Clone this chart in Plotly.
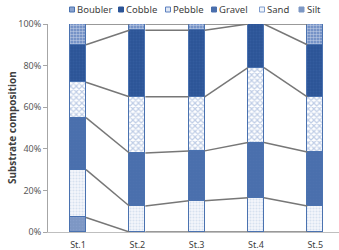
import plotly.graph_objects as go

stations = ["St.1", "St.2", "St.3", "St.4", "St.5"]
silt = [7, 0, 0, 0, 0]
sand = [23, 12.5, 15, 16.5, 12.5]
gravel = [25, 25.5, 24, 26.5, 26]
pebble = [17, 27, 26, 36, 26.5]
cobble = [18, 32, 32, 21, 25]
boubler = [10, 3, 3, 0, 10]
y_ticks = [0, 20, 40, 60, 80, 100]
y_tick_labels = ["0%", "20%", "40%", "60%", "80%", "100%"]

series = [
    ("Silt", silt, dict(bgcolor="#7d97c4", fgcolor="#8ea6cf", shape=".", size=3, solidity=0.2)),
    ("Sand", sand, dict(bgcolor="#f4f7fb", fgcolor="#b9c9e4", shape=".", size=3, solidity=0.4)),
    ("Gravel", gravel, dict(bgcolor="#4a6fad", fgcolor="#4f74b2", shape=".", size=3, solidity=0.2)),
    ("Pebble", pebble, dict(bgcolor="#ffffff", fgcolor="#7f9ccd", shape="x", size=4, solidity=0.5)),
    ("Cobble", cobble, dict(bgcolor="#2c5597", fgcolor="#3c64a5", shape=".", size=3, solidity=0.3)),
    ("Boubler", boubler, dict(bgcolor="#5f81bd", fgcolor="#ffffff", shape=".", size=3, solidity=0.55)),
]

BAR_W = 0.27
idx = list(range(len(stations)))

fig = go.Figure()
for name, vals, pat in series:
    fig.add_trace(go.Bar(
        x=idx, y=vals, name=name, width=BAR_W,
        marker=dict(color=pat["bgcolor"], line=dict(color="#4a72b0", width=1),
                    pattern=dict(shape=pat["shape"], fgcolor=pat["fgcolor"],
                                 bgcolor=pat["bgcolor"], size=pat["size"],
                                 solidity=pat["solidity"], fillmode="overlay")),
        showlegend=False,
    ))

# series lines connecting cumulative boundaries
cum = [0] * len(stations)
lx, ly = [], []
for name, vals, pat in series:
    cum = [c + v for c, v in zip(cum, vals)]
    for i in range(len(stations) - 1):
        lx += [i + BAR_W / 2, i + 1 - BAR_W / 2, None]
        ly += [cum[i], cum[i + 1], None]
fig.add_trace(go.Scatter(x=lx, y=ly, mode="lines", line=dict(color="#777777", width=1.5),
                         showlegend=False, hoverinfo="skip"))

# layout geometry (pixels)
L, R, T, B, W, H = 48, 0, 24, 18, 339, 250
PW, PH = W - L - R, H - T - B


def px(xp):
    return (xp - L) / PW


def py(yp):
    return (H - B - yp) / PH


# manual legend
legend_items = [
    ("Boubler", 69.5, "#8aa3cf", "#4a72b0"),
    ("Cobble", 118.5, "#2c5597", "#2c5597"),
    ("Pebble", 165.5, "#dfe7f4", "#5a7fbf"),
    ("Gravel", 211.5, "#4a6fad", "#4a6fad"),
    ("Sand", 259.5, "#f0f4fa", "#7f9ccd"),
    ("Silt", 299, "#7d97c4", "#7d97c4"),
]
shapes = []
annotations = []
for name, xl, fill, edge in legend_items:
    shapes.append(dict(type="rect", xref="paper", yref="paper",
                       x0=px(xl), x1=px(xl + 5), y0=py(12), y1=py(7),
                       fillcolor=fill, line=dict(color=edge, width=1)))
    annotations.append(dict(text=name, xref="paper", yref="paper",
                            x=px(xl + 5.5), y=py(9.7), xanchor="left", yanchor="middle",
                            showarrow=False, font=dict(size=9.5, color="#404040",
                                                       family="Noto Sans")))

annotations.append(dict(text="<b>Substrate composition</b>", xref="paper", yref="paper",
                        x=px(12), y=py(128), textangle=-90, showarrow=False,
                        xanchor="center", yanchor="middle",
                        font=dict(size=10, color="#404040", family="Noto Sans")))

fig.update_layout(
    width=W, height=H,
    margin=dict(l=L, r=R, t=T, b=B, pad=0),
    barmode="stack",
    bargap=0,
    plot_bgcolor="white", paper_bgcolor="white",
    showlegend=False,
    shapes=shapes,
    annotations=annotations,
    xaxis=dict(range=[-0.506, 4.40], tickmode="array", tickvals=idx, ticktext=stations,
               showgrid=False, zeroline=False, showline=True, linecolor="#bfbfbf",
               linewidth=1, ticks="", ticklabelstandoff=4,
               tickfont=dict(size=9, color="#404040", family="Noto Sans")),
    yaxis=dict(range=[0, 100], tickmode="array", tickvals=y_ticks, ticktext=y_tick_labels,
               showgrid=False, zeroline=False, showline=True, linecolor="#a6a6a6",
               linewidth=1, ticks="outside", ticklen=4, tickcolor="#a6a6a6",
               tickfont=dict(size=9, color="#595959", family="Noto Sans")),
)

fig.write_html("out.html")
